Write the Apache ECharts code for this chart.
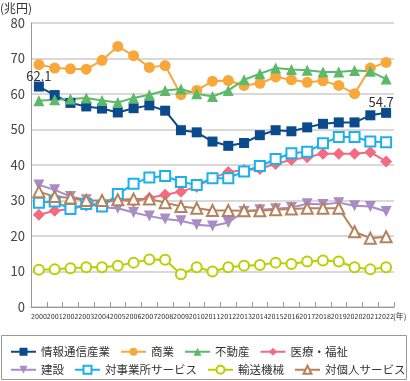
<!DOCTYPE html>
<html><head><meta charset="utf-8">
<script src="https://cdn.jsdelivr.net/npm/echarts@6/dist/echarts.min.js"></script>
<style>html,body{margin:0;padding:0;background:#fff}#c{width:410px;height:381px}</style>
</head><body><div id="c"></div>
<script>
var years = ['2000','2001','2002','2003','2004','2005','2006','2007','2008','2009','2010','2011','2012','2013','2014','2015','2016','2017','2018','2019','2020','2021','2022'];
var yTicks = [0, 10, 20, 30, 40, 50, 60, 70, 80];
var seriesNames = ['情報通信産業','商業','不動産','医療・福祉','建設','対事業所サービス','輸送機械','対個人サービス'];
var info = [62.1, 59.7, 57.5, 56.5, 55.9, 54.8, 56.0, 56.8, 55.3, 49.8, 49.2, 46.6, 45.4, 46.2, 48.4, 49.8, 49.5, 50.6, 51.6, 52.0, 52.0, 54.0, 54.7];
var commerce = [68.3, 67.3, 67.1, 67.0, 69.5, 73.4, 70.8, 67.5, 68.0, 59.8, 61.0, 63.6, 63.8, 62.4, 63.0, 64.8, 64.0, 63.3, 63.7, 62.4, 60.1, 67.3, 68.9];
var realEstate = [58.1, 58.4, 58.6, 58.9, 58.2, 57.6, 58.9, 59.8, 61.0, 61.4, 60.1, 59.3, 61.0, 64.0, 65.7, 67.3, 66.9, 66.7, 66.2, 66.2, 66.6, 66.4, 64.2];
var medical = [26.0, 27.1, 27.6, 28.6, 29.3, 30.2, 29.7, 30.7, 31.6, 32.5, 33.9, 36.3, 38.0, 38.6, 38.9, 40.3, 41.5, 42.2, 43.2, 43.2, 43.2, 43.6, 41.0];
var construction = [34.4, 33.0, 31.1, 30.2, 28.0, 27.8, 26.6, 25.6, 24.8, 24.3, 23.2, 22.8, 23.8, 26.9, 27.4, 27.7, 28.0, 29.1, 28.9, 29.4, 28.5, 28.3, 26.9];
var business = [29.4, 29.7, 27.6, 29.0, 28.3, 31.8, 34.7, 36.5, 36.9, 35.2, 34.4, 36.3, 36.3, 38.2, 39.7, 41.7, 43.3, 43.7, 46.1, 47.9, 47.9, 46.6, 46.4];
var transport = [10.5, 10.6, 10.9, 11.2, 11.2, 11.6, 12.5, 13.4, 13.3, 9.2, 11.2, 10.0, 11.2, 11.6, 11.8, 12.5, 12.1, 12.8, 13.1, 12.8, 11.2, 10.6, 11.2];
var personal = [32.5, 31.1, 30.7, 30.0, 30.0, 30.2, 30.4, 30.4, 29.4, 28.3, 27.8, 27.2, 27.2, 27.1, 27.1, 27.4, 27.6, 27.8, 27.8, 27.8, 21.2, 19.4, 19.8];
var labelledPoints = [0, 22];

var chart = echarts.init(document.getElementById('c'), null, {renderer: 'canvas'});
var FONT = '"Noto Sans CJK JP", "Noto Sans", sans-serif';

function mk(name, data, color, symbol, size, hollow, labelIdx) {
  var d = data;
  if (labelIdx) {
    d = data.map(function (v, i) {
      if (labelIdx.indexOf(i) < 0) return v;
      return {value: v, label: {show: true, offset: i === data.length - 1 ? [-5, 0] : [0, 0]}};
    });
  }
  var s = {
    name: name, type: 'line', data: d, symbol: symbol, symbolSize: size,
    lineStyle: {color: color, width: 2},
    itemStyle: hollow ? {color: '#fff', borderColor: color, borderWidth: 2} : {color: color, borderColor: color, borderWidth: 0},
    emphasis: {disabled: true}, animation: false
  };
  if (labelIdx) {
    s.label = {show: false, position: 'top', fontFamily: FONT, fontSize: 13, color: '#333', distance: -1,
      formatter: function (p) { return p.value.toFixed(1); }};
  }
  return s;
}

var legendCommon = {
  left: 10, width: 400, padding: 0, itemWidth: 25, itemHeight: 10, itemGap: 10,
  textStyle: {fontFamily: FONT, fontSize: 11.5, color: '#333'},
  selectedMode: false
};

chart.setOption({
  animation: false,
  grid: {left: 31, right: 16, top: 23, bottom: 74},
  legend: [
    Object.assign({}, legendCommon, {top: 346, data: seriesNames.slice(0, 4)}),
    Object.assign({}, legendCommon, {top: 364, data: seriesNames.slice(4)})
  ],
  graphic: [
    {type: 'rect', shape: {x: 1.5, y: 335.5, width: 405, height: 44}, style: {fill: 'none', stroke: '#999', lineWidth: 1}},
    {type: 'text', left: 0, top: 2, style: {text: '(兆円)', font: '12px ' + FONT, fill: '#333'}},
    {type: 'text', left: 393, top: 312, style: {text: '(年)', font: '8px ' + FONT, fill: '#333'}}
  ],
  xAxis: {
    type: 'category', data: years, boundaryGap: true,
    axisLine: {lineStyle: {color: '#999', width: 1}},
    axisTick: {show: true, inside: true, length: 5, lineStyle: {color: '#999'}},
    axisLabel: {interval: 0, fontFamily: '"Liberation Sans Narrow", "DejaVu Sans Condensed", sans-serif', fontSize: 7, color: '#333', margin: 7}
  },
  yAxis: {
    type: 'value', min: yTicks[0], max: yTicks[yTicks.length - 1], interval: 10,
    axisLine: {show: true, lineStyle: {color: '#999', width: 1}},
    axisTick: {show: false},
    axisLabel: {fontFamily: FONT, fontSize: 13, color: '#444', margin: 6},
    splitLine: {lineStyle: {color: '#ccc', width: 1.5}}
  },
  series: [
    mk(seriesNames[0], info, '#0b4a8b', 'rect', 10, false, labelledPoints),
    mk(seriesNames[1], commerce, '#f8a83a', 'circle', 11, false),
    mk(seriesNames[2], realEstate, '#5db96a', 'triangle', 11, false),
    mk(seriesNames[3], medical, '#f26b80', 'diamond', 12, false),
    mk(seriesNames[4], construction, '#a98bc6', 'path://M0,0 L10,0 L5,10 Z', 11, false),
    mk(seriesNames[5], business, '#1ab1ec', 'rect', 10, true),
    mk(seriesNames[6], transport, '#b9d000', 'circle', 10, true),
    mk(seriesNames[7], personal, '#b6825d', 'triangle', 11, true)
  ]
});
</script></body></html>
